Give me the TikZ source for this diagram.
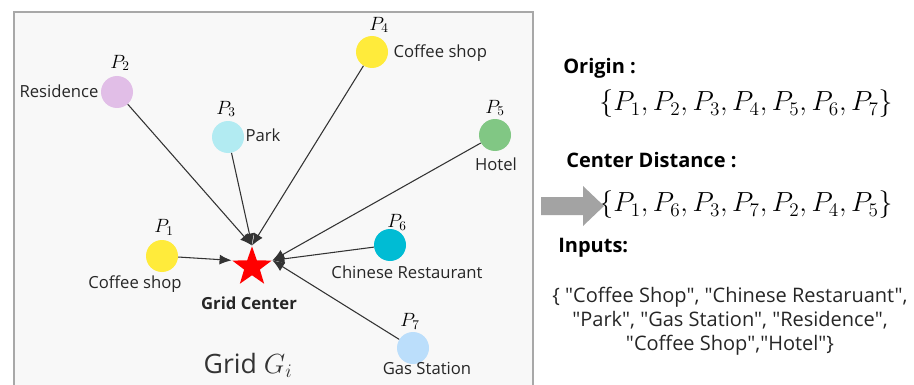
\documentclass[tikz,border=0pt]{standalone}
\usepackage{fontspec}
\setmainfont{Open Sans}
\newfontfamily\listfont{Open Sans}
\usetikzlibrary{shapes.geometric,arrows.meta}

\definecolor{gridfill}{HTML}{F8F8F8}
\definecolor{gridline}{HTML}{A8A8A8}
\definecolor{linkgray}{HTML}{333333}
\definecolor{bigarrow}{HTML}{A3A3A3}
\definecolor{cYellow}{HTML}{FFEB3B}
\definecolor{cLilac}{HTML}{E1BEE7}
\definecolor{cAqua}{HTML}{B2EBF2}
\definecolor{cGreen}{HTML}{81C784}
\definecolor{cCyan}{HTML}{00BCD4}
\definecolor{cSky}{HTML}{BBDEFB}

\tikzset{
	poi/.style={circle, minimum size=24pt, inner sep=0pt},
	pname/.style={font=\fontsize{14}{16}\selectfont},
	ptext/.style={font=\fontsize{12.5}{15}\selectfont, text=black!85, inner sep=1pt},
	head/.style={font=\fontsize{15}{18}\selectfont\bfseries, anchor=west, inner sep=0pt},
	pset/.style={font=\fontsize{20}{23}\selectfont},
	link/.style={draw=linkgray, line width=0.8pt, -{Latex[length=9pt,width=7.5pt]}},
}

\begin{document}
\begin{tikzpicture}[x=0.75pt,y=-0.75pt]
	\useasboundingbox (0,0) rectangle (914,385);
	
	% grid cell
	\fill[gridfill] (14,12) rectangle (533,385);
	\draw[gridline, line width=0.8pt] (14,385) -- (14,12) -- (533,12) -- (533,385);
	
	% points of interest
	\node[poi, fill=cYellow] (p1) at (162,256) {};
	\node[poi, fill=cLilac] (p2) at (117,92) {};
	\node[poi, fill=cAqua] (p3) at (228,137) {};
	\node[poi, fill=cYellow] (p4) at (372,52) {};
	\node[poi, fill=cGreen] (p5) at (495,135) {};
	\node[poi, fill=cCyan] (p6) at (390,245) {};
	\node[poi, fill=cSky] (p7) at (413,348) {};
	
	\node[pname] (n1) at (164,227) {$P_1$};
	\node[pname] (n2) at (120,63) {$P_2$};
	\node[pname] (n3) at (226,109) {$P_3$};
	\node[pname] (n4) at (379,25) {$P_4$};
	\node[pname] (n5) at (495,108) {$P_5$};
	\node[pname] (n6) at (397,222) {$P_6$};
	\node[pname] (n7) at (410,321) {$P_7$};
	
	\node[ptext] (t1) at (135,284) {Coffee shop};
	\node[ptext, anchor=east] (t2) at (100,91) {Residence};
	\node[ptext, anchor=west] (t3) at (244,135) {Park};
	\node[ptext, anchor=west] (t4) at (392,53) {Coffee shop};
	\node[ptext] (t5) at (496,164) {Hotel};
	\node[ptext] (t6) at (407,272) {Chinese Restaurant};
	\node[ptext] (t7) at (427,368) {Gas Station};
	
	% grid center
	\node[star, star points=5, star point ratio=2.5, fill=red,
		minimum size=31pt, inner sep=0pt] (ctr) at (252,267) {};
	\node[ptext, font=\fontsize{12.5}{15}\selectfont\bfseries] (ctrtext) at (249,303) {Grid Center};
	\node[font=\fontsize{20}{24}\selectfont, text=black!80] (gridname) at (248,365) {Grid $G_i$};
	
	\draw[link] (p1) -- (ctr.outer point 2);
	\draw[link] (p2) -- (ctr.outer point 1);
	\draw[link] (p3) -- (ctr.outer point 1);
	\draw[link] (p4) -- (ctr.outer point 1);
	\draw[link] (p5) -- (ctr.outer point 5);
	\draw[link] (p6) -- (ctr.outer point 5);
	\draw[link] (p7) -- (ctr.outer point 5);
	
	% right side
	\node[head] (origin) at (563,68) {Origin :};
	\node[pset] (orgset) at (746,104) {$\{P_1,P_2,P_3,P_4,P_5,P_6,P_7\}$};
	\node[head] (cdist) at (566,160) {Center Distance :};
	\node[pset] (cdset) at (746,205) {$\{P_1,P_6,P_3,P_7,P_2,P_4,P_5\}$};
	\fill[bigarrow] (541,197) -- (583,197) -- (583,186) -- (604,206)
		-- (583,226) -- (583,215) -- (541,215) -- cycle;
	\node[head] (inputs) at (558,248) {Inputs:};
	\node[ptext, align=center, font=\fontsize{15}{18}\listfont] (inlist) at (730,321)
		{\{ "Coffee Shop", "Chinese Restaruant",\\
		"Park", "Gas Station", "Residence",\\
		"Coffee Shop","Hotel"\}};
\end{tikzpicture}
\end{document}
